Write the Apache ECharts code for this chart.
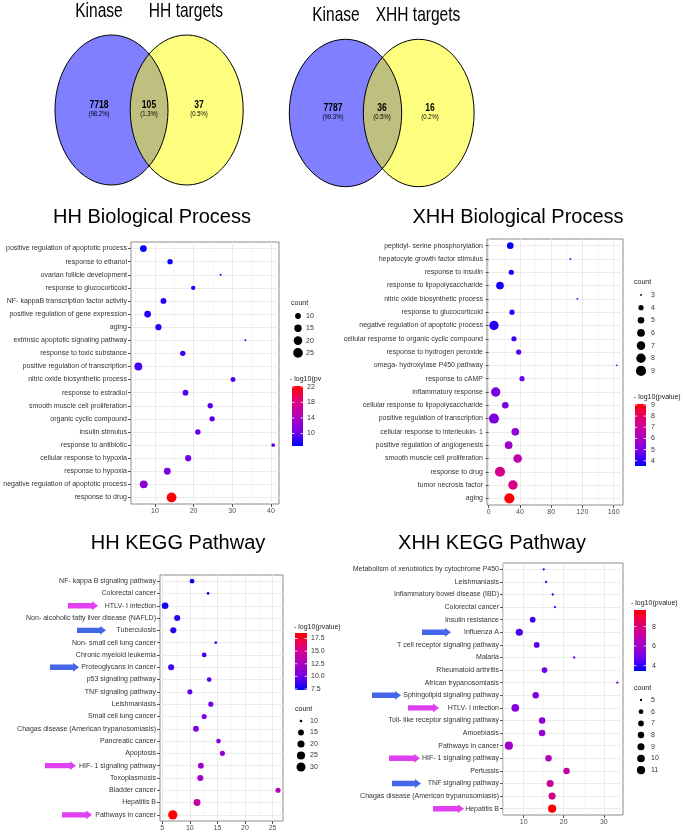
<!DOCTYPE html>
<html>
<head>
<meta charset="utf-8">
<script src="https://cdn.jsdelivr.net/npm/echarts@6/dist/echarts.min.js"></script>
<style>
  html, body { margin: 0; padding: 0; background: #fff; }
  #main { width: 685px; height: 832px; }
</style>
</head>
<body>
<div id="main"></div>
<script>
// ---------- Venn numbers ----------
var vennHHSets = ["Kinase", "HH targets"];
var vennHHCounts = [7718, 105, 37];
var vennHHPercents = ["98.2%", "1.3%", "0.5%"];
var vennXHHSets = ["Kinase", "XHH targets"];
var vennXHHCounts = [7787, 36, 16];
var vennXHHPercents = ["99.3%", "0.5%", "0.2%"];

// ---------- HH Biological Process ----------
var hhBpTerms = [
  "positive regulation of apoptotic process", "response to ethanol", "ovarian follicle development",
  "response to glucocorticoid", "NF- kappaB transcription factor activity", "positive regulation of gene expression",
  "aging", "extrinsic apoptotic signaling pathway", "response to toxic substance",
  "positive regulation of transcription", "nitric oxide biosynthetic process", "response to estradiol",
  "smooth muscle cell proliferation", "organic cyclic compound", "insulin stimulus",
  "response to antibiotic", "cellular response to hypoxia", "response to hypoxia",
  "negative regulation of apoptotic process", "response to drug"
];
var hhBpX = [7.0, 13.9, 27.0, 19.9, 12.2, 8.1, 10.9, 33.4, 17.2, 5.7, 30.2, 17.9, 24.3, 24.8, 21.1, 40.6, 18.6, 13.2, 7.1, 14.3];
var hhBpCount = [13, 9, 5, 7, 10, 13, 11, 5, 9, 17, 8, 10, 9, 9, 9, 6, 11, 13, 17, 26];
var hhBpLogP = [7.0, 7.2, 7.4, 7.6, 7.9, 8.1, 8.3, 8.5, 8.7, 8.9, 9.1, 9.3, 9.5, 9.7, 9.9, 10.1, 10.4, 10.9, 11.5, 22.0];
var hhBpTicks = [10, 20, 30, 40];
var hhBpCountBreaks = [10, 15, 20, 25];
var hhBpLogPBreaks = [10, 14, 18, 22];

// ---------- XHH Biological Process ----------
var xhhBpTerms = [
  "peptidyl- serine phosphorylation", "hepatocyte growth factor stimulus", "response to insulin",
  "response to lipopolysaccharide", "nitric oxide biosynthetic process", "response to glucocorticoid",
  "negative regulation of apoptotic process", "cellular response to organic cyclic compound", "response to hydrogen peroxide",
  "omega- hydroxylase P450 pathway", "response to cAMP", "inflammatory response",
  "cellular response to lipopolysaccharide", "positive regulation of transcription", "cellular response to interleukin- 1",
  "positive regulation of angiogenesis", "smooth muscle cell proliferation", "response to drug",
  "tumor necrosis factor", "aging"
];
var xhhBpX = [27.7, 104.5, 29.0, 14.5, 113.5, 29.9, 6.8, 32.4, 38.4, 163.8, 42.7, 9.0, 21.3, 6.8, 34.1, 25.6, 37.1, 14.5, 31.1, 26.5];
var xhhBpCount = [5, 3, 4, 6, 3, 4, 8, 4, 4, 3, 4, 8, 5, 9, 6, 6, 7, 9, 8, 9];
var xhhBpLogP = [3.6, 3.65, 3.7, 3.75, 3.8, 3.85, 3.95, 4.3, 4.45, 4.6, 4.75, 4.9, 5.0, 5.1, 5.4, 5.8, 6.6, 7.3, 7.4, 9.0];
var xhhBpTicks = [0, 40, 80, 120, 160];
var xhhBpCountBreaks = [3, 4, 5, 6, 7, 8, 9];
var xhhBpLogPBreaks = [4, 5, 6, 7, 8, 9];

// ---------- HH KEGG Pathway ----------
var hhKeggTerms = [
  "NF- kappa B signaling pathway", "Colorectal cancer", "HTLV- I infection",
  "Non- alcoholic fatty liver disease (NAFLD)", "Tuberculosis", "Non- small cell lung cancer",
  "Chronic myeloid leukemia", "Proteoglycans in cancer", "p53 signaling pathway",
  "TNF signaling pathway", "Leishmaniasis", "Small cell lung cancer",
  "Chagas disease (American trypanosomiasis)", "Pancreatic cancer", "Apoptosis",
  "HIF- 1 signaling pathway", "Toxoplasmosis", "Bladder cancer",
  "Hepatitis B", "Pathways in cancer"
];
var hhKeggX = [10.4, 13.3, 5.5, 7.7, 7.0, 14.7, 12.6, 6.6, 13.5, 10.0, 13.8, 12.6, 11.1, 15.2, 15.9, 12.0, 11.9, 26.0, 11.3, 6.9];
var hhKeggCount = [12, 10, 18, 16, 16, 10, 12, 16, 12, 13, 13, 13, 15, 12, 13, 15, 16, 13, 19, 32];
var hhKeggLogP = [7.5, 7.6, 7.7, 8.1, 8.3, 8.5, 8.8, 9.0, 9.3, 9.6, 9.9, 10.2, 10.5, 10.9, 11.2, 11.6, 12.0, 13.0, 14.0, 18.5];
var hhKeggTicks = [5, 10, 15, 20, 25];
var hhKeggCountBreaks = [10, 15, 20, 25, 30];
var hhKeggLogPBreaks = [7.5, 10.0, 12.5, 15.0, 17.5];
var hhKeggMarked = [
  ["HTLV- I infection", "magenta"], ["Tuberculosis", "blue"], ["Proteoglycans in cancer", "blue"],
  ["HIF- 1 signaling pathway", "magenta"], ["Pathways in cancer", "magenta"]
];

// ---------- XHH KEGG Pathway ----------
var xhhKeggTerms = [
  "Metabolism of xenobiotics by cytochrome P450", "Leishmaniasis", "Inflammatory bowel disease (IBD)",
  "Colorectal cancer", "Insulin resistance", "Influenza A",
  "T cell receptor signaling pathway", "Malaria", "Rheumatoid arthritis",
  "African trypanosomiasis", "Sphingolipid signaling pathway", "HTLV- I infection",
  "Toll- like receptor signaling pathway", "Amoebiasis", "Pathways in cancer",
  "HIF- 1 signaling pathway", "Pertussis", "TNF signaling pathway",
  "Chagas disease (American trypanosomiasis)", "Hepatitis B"
];
var xhhKeggX = [15.0, 15.6, 17.25, 17.8, 12.25, 8.9, 13.25, 22.6, 15.2, 33.4, 13.0, 7.9, 14.6, 14.6, 6.3, 16.2, 20.7, 16.6, 17.1, 17.1];
var xhhKeggCount = [5, 5, 5, 5, 7, 9, 7, 5, 7, 5, 8, 10, 8, 8, 11, 8, 8, 9, 9, 11];
var xhhKeggLogP = [3.6, 3.7, 3.8, 3.9, 4.2, 4.4, 4.6, 4.8, 4.9, 5.0, 5.2, 5.4, 5.6, 5.8, 6.0, 6.5, 7.0, 7.3, 7.7, 9.6];
var xhhKeggTicks = [10, 20, 30];
var xhhKeggCountBreaks = [5, 6, 7, 8, 9, 10, 11];
var xhhKeggLogPBreaks = [4, 6, 8];
var xhhKeggMarked = [
  ["Influenza A", "blue"], ["Sphingolipid signaling pathway", "blue"], ["HTLV- I infection", "magenta"],
  ["HIF- 1 signaling pathway", "magenta"], ["TNF signaling pathway", "blue"], ["Hepatitis B", "magenta"]
];

// ---------- 样式 ----------
var FONT = '"Liberation Sans", Arial, sans-serif';
var GRADIENT = ["#0000ff", "#7a00e6", "#b300b8", "#e0007a", "#ff0000"];
var ARROW = { magenta: "#e040f0", blue: "#4466e8" };

// 每个面板的布局
var panels = [
  {
    title: "HH Biological Process", titleX: 152, titleY: 217,
    terms: hhBpTerms, x: hhBpX, count: hhBpCount, logp: hhBpLogP,
    ticks: hhBpTicks, minor: [5, 15, 25, 35], xMin: 3.8, xMax: 42.1,
    grid: { left: 131, top: 242, width: 148, height: 262 },
    size: { cmin: 5, d0: 2, k: 1.7 },
    cbar: { min: 6.8, max: 22.2, breaks: hhBpLogPBreaks, dec: 0, x: 292, y: 386, w: 11, h: 60, labelX: 307, titleX: 290, titleY: 379, titleW: 35 },
    cnt: { breaks: hhBpCountBreaks, titleX: 291, titleY: 303, y0: 316, dy: 12.3, dotX: 298, labelX: 306 },
    arrows: [], arrowX: {}
  },
  {
    title: "XHH Biological Process", titleX: 518, titleY: 217,
    terms: xhhBpTerms, x: xhhBpX, count: xhhBpCount, logp: xhhBpLogP,
    ticks: xhhBpTicks, minor: [20, 60, 100, 140], xMin: -2.1, xMax: 171.9,
    grid: { left: 487, top: 239, width: 136, height: 266 },
    size: { cmin: 3, d0: 1.8, k: 3.4 },
    cbar: { min: 3.53, max: 9.08, breaks: xhhBpLogPBreaks, dec: 0, x: 635, y: 404, w: 11, h: 62, labelX: 651, titleX: 634, titleY: 397, titleW: 100 },
    cnt: { breaks: xhhBpCountBreaks, titleX: 634, titleY: 282, y0: 295, dy: 12.65, dotX: 641, labelX: 651 },
    arrows: [], arrowX: {}
  },
  {
    title: "HH KEGG Pathway", titleX: 178, titleY: 543,
    terms: hhKeggTerms, x: hhKeggX, count: hhKeggCount, logp: hhKeggLogP,
    ticks: hhKeggTicks, minor: [7.5, 12.5, 17.5, 22.5], xMin: 4.58, xMax: 26.9,
    grid: { left: 160, top: 575, width: 123, height: 246 },
    size: { cmin: 10, d0: 2.7, k: 1.4 },
    cbar: { min: 7.3, max: 18.6, breaks: hhKeggLogPBreaks, dec: 1, x: 295, y: 633, w: 12, h: 57, labelX: 311, titleX: 294, titleY: 627, titleW: 100 },
    cnt: { breaks: hhKeggCountBreaks, titleX: 295, titleY: 709, y0: 721, dy: 11.5, dotX: 301, labelX: 310 },
    arrows: hhKeggMarked,
    arrowX: {
      "HTLV- I infection": [68, 98], "Tuberculosis": [77, 106], "Proteoglycans in cancer": [50, 79],
      "HIF- 1 signaling pathway": [45, 76], "Pathways in cancer": [62, 92]
    }
  },
  {
    title: "XHH KEGG Pathway", titleX: 492, titleY: 543,
    terms: xhhKeggTerms, x: xhhKeggX, count: xhhKeggCount, logp: xhhKeggLogP,
    ticks: xhhKeggTicks, minor: [5, 15, 25], xMin: 4.83, xMax: 34.8,
    grid: { left: 503, top: 563, width: 120, height: 252 },
    size: { cmin: 5, d0: 2.3, k: 2.4 },
    cbar: { min: 3.45, max: 9.7, breaks: xhhKeggLogPBreaks, dec: 0, x: 634, y: 610, w: 12, h: 61, labelX: 652, titleX: 631, titleY: 603, titleW: 100 },
    cnt: { breaks: xhhKeggCountBreaks, titleX: 634, titleY: 688, y0: 700, dy: 11.7, dotX: 641, labelX: 651 },
    arrows: xhhKeggMarked,
    arrowX: {
      "Influenza A": [422, 451], "Sphingolipid signaling pathway": [372, 401], "HTLV- I infection": [408, 439],
      "HIF- 1 signaling pathway": [389, 420], "TNF signaling pathway": [392, 421], "Hepatitis B": [433, 464]
    }
  }
];

function dotSize(p, c) {
  return p.size.d0 + p.size.k * Math.sqrt(Math.max(c - p.size.cmin, 0));
}

var myChart = echarts.init(document.getElementById("main"));

var grids = [], xAxes = [], yAxes = [], series = [], visualMaps = [];
panels.forEach(function(p, i) {
  grids.push({
    left: p.grid.left, top: p.grid.top, width: p.grid.width, height: p.grid.height,
    show: true, borderColor: "#8a8a8a", borderWidth: 1, backgroundColor: "#fff"
  });
  // 主刻度
  xAxes.push({
    gridIndex: i, type: "value", min: p.xMin, max: p.xMax,
    axisLine: { show: false },
    axisTick: { show: true, length: 3, lineStyle: { color: "#555" }, customValues: p.ticks },
    axisLabel: { customValues: p.ticks, fontSize: 7, color: "#4d4d4d", margin: 4, fontFamily: FONT },
    splitLine: { show: true, lineStyle: { color: "#ebebeb", width: 1 } }
  });
  // 次网格线
  xAxes.push({
    gridIndex: i, type: "value", min: p.xMin, max: p.xMax, position: "bottom",
    axisLine: { show: false },
    axisTick: { show: false, customValues: p.minor },
    axisLabel: { show: false },
    splitLine: { show: true, lineStyle: { color: "#f4f4f4", width: 0.6 } }
  });
  yAxes.push({
    gridIndex: i, type: "category", data: p.terms, inverse: true,
    axisLine: { show: false },
    axisTick: { show: true, alignWithLabel: true, length: 3, lineStyle: { color: "#555" } },
    axisLabel: { interval: 0, fontSize: 7, color: "#333", margin: 4, fontFamily: FONT },
    splitLine: { show: true, alignWithLabel: true, lineStyle: { color: "#ebebeb", width: 1 } }
  });
  series.push({
    type: "scatter",
    xAxisIndex: 2 * i, yAxisIndex: i,
    data: p.terms.map(function(t, k) { return [p.x[k], t, p.count[k], p.logp[k]]; }),
    symbolSize: function(v) { return dotSize(p, v[2]); },
    itemStyle: { opacity: 1 },
    z: 5
  });
  visualMaps.push({
    type: "continuous", show: false, seriesIndex: i, dimension: 3,
    min: p.cbar.min, max: p.cbar.max, inRange: { color: GRADIENT }
  });
});

var option = {
  animation: false,
  backgroundColor: "#fff",
  textStyle: { fontFamily: FONT },
  grid: grids,
  xAxis: xAxes,
  yAxis: yAxes,
  visualMap: visualMaps,
  series: series
};
myChart.setOption(option);

// ---------- graphic: 韦恩图、标题、图例、箭头 ----------
var els = [];
function txt(x, y, s, size, opt) {
  opt = opt || {};
  var e = {
    type: "text", x: x, y: y, z: 20,
    scaleX: opt.scaleX || 1,
    style: {
      text: s, x: 0, y: 0, fill: opt.fill || "#000",
      font: (opt.bold ? "bold " : "") + size + "px " + FONT,
      align: opt.align || "center", verticalAlign: "middle"
    }
  };
  if (opt.width) { e.style.width = opt.width; e.style.overflow = "truncate"; e.style.ellipsis = ""; }
  els.push(e);
}

function venn(sets, counts, pcts, geo) {
  els.push({ type: "ellipse", z: 10, shape: { cx: geo.a[0], cy: geo.cy, rx: geo.a[1], ry: geo.ry }, style: { fill: "rgba(0,0,255,0.5)", stroke: null } });
  els.push({ type: "ellipse", z: 11, shape: { cx: geo.b[0], cy: geo.cy, rx: geo.b[1], ry: geo.ry }, style: { fill: "rgba(255,255,0,0.5)", stroke: null } });
  els.push({ type: "ellipse", z: 12, shape: { cx: geo.a[0], cy: geo.cy, rx: geo.a[1], ry: geo.ry }, style: { fill: null, stroke: "#000", lineWidth: 1 } });
  els.push({ type: "ellipse", z: 12, shape: { cx: geo.b[0], cy: geo.cy, rx: geo.b[1], ry: geo.ry }, style: { fill: null, stroke: "#000", lineWidth: 1 } });
  txt(geo.t[0], geo.ty, sets[0], 21, { scaleX: 0.74 });
  txt(geo.t[1], geo.ty, sets[1], 21, { scaleX: 0.74 });
  for (var i = 0; i < 3; i++) {
    txt(geo.n[i], geo.ny, String(counts[i]), 11, { bold: true, scaleX: 0.78 });
    txt(geo.n[i], geo.ny + 9, "(" + pcts[i] + ")", 7.5, { scaleX: 0.8 });
  }
}
venn(vennHHSets, vennHHCounts, vennHHPercents,
  { a: [111.5, 56.5], b: [186.7, 56.5], cy: 110, ry: 75, t: [99, 186], ty: 11, n: [99, 149, 199], ny: 105 });
venn(vennXHHSets, vennXHHCounts, vennXHHPercents,
  { a: [345.5, 56.2], b: [418.7, 55.4], cy: 113, ry: 73.7, t: [336, 418], ty: 15, n: [333, 382, 430], ny: 108 });

panels.forEach(function(p, i) {
  txt(p.titleX, p.titleY, p.title, 20);

  // 颜色条
  var c = p.cbar;
  els.push({
    type: "rect", z: 10,
    shape: { x: c.x, y: c.y, width: c.w, height: c.h },
    style: {
      fill: {
        type: "linear", x: 0, y: 1, x2: 0, y2: 0,
        colorStops: GRADIENT.map(function(col, k) { return { offset: k / (GRADIENT.length - 1), color: col }; })
      }
    }
  });
  txt(c.titleX, c.titleY, "- log10(pvalue)", 7, { align: "left", fill: "#222", width: c.titleW });
  c.breaks.forEach(function(b) {
    var yy = c.y + c.h * (c.max - b) / (c.max - c.min);
    els.push({ type: "line", z: 11, shape: { x1: c.x, y1: yy, x2: c.x + 2.4, y2: yy }, style: { stroke: "#fff", lineWidth: 0.8 } });
    els.push({ type: "line", z: 11, shape: { x1: c.x + c.w - 2.4, y1: yy, x2: c.x + c.w, y2: yy }, style: { stroke: "#fff", lineWidth: 0.8 } });
    txt(c.labelX, yy, b.toFixed(c.dec), 7, { align: "left", fill: "#333" });
  });

  // 点大小图例
  var n = p.cnt;
  txt(n.titleX, n.titleY, "count", 7, { align: "left", fill: "#222" });
  n.breaks.forEach(function(b, k) {
    var yy = n.y0 + k * n.dy;
    els.push({ type: "circle", z: 10, shape: { cx: n.dotX, cy: yy, r: dotSize(p, b) / 2 }, style: { fill: "#000" } });
    txt(n.labelX, yy, String(b), 7, { align: "left", fill: "#333" });
  });

  // 箭头
  p.arrows.forEach(function(a) {
    var idx = p.terms.indexOf(a[0]);
    var pt = myChart.convertToPixel({ gridIndex: i }, [p.ticks[0], idx]);
    var yc = pt[1];
    var x0 = p.arrowX[a[0]][0], x1 = p.arrowX[a[0]][1];
    var hl = 6, sh = 2.7, hh = 4.4;
    els.push({
      type: "polygon", z: 10,
      shape: { points: [[x0, yc - sh], [x1 - hl, yc - sh], [x1 - hl, yc - hh], [x1, yc], [x1 - hl, yc + hh], [x1 - hl, yc + sh], [x0, yc + sh]] },
      style: { fill: ARROW[a[1]] }
    });
  });
});

myChart.setOption({ graphic: { elements: els } });

window.addEventListener("resize", function() {
  myChart.resize();
});
</script>
</body>
</html>
